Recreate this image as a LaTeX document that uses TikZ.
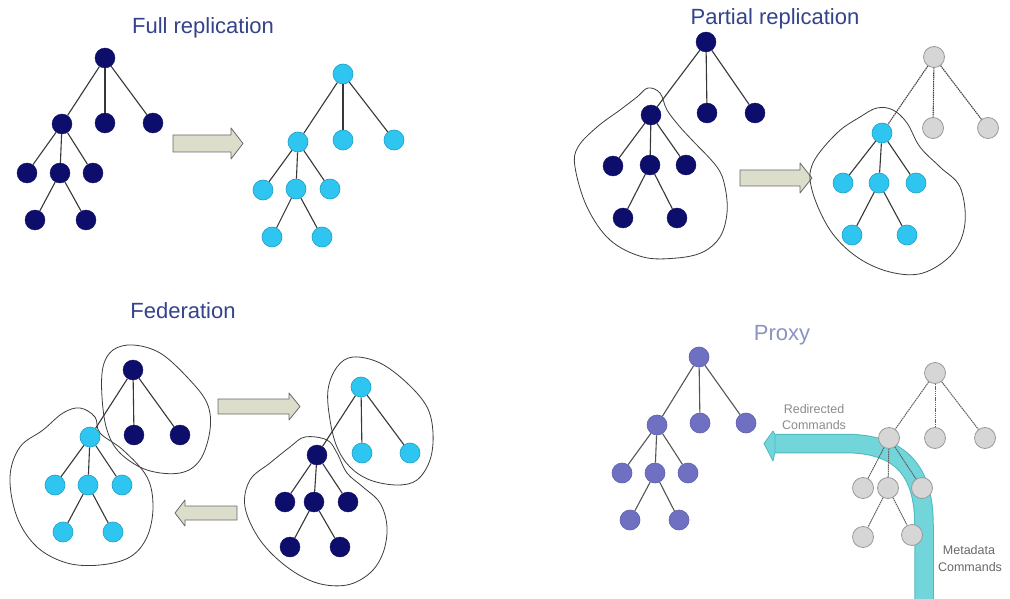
\documentclass[tikz,border=0pt]{standalone}
\usepackage{fontspec}
\setmainfont{Liberation Sans}
\definecolor{navy}{HTML}{0D0D6B}
\definecolor{cyanf}{HTML}{2EC6F0}
\definecolor{cyand}{HTML}{1B9FC6}
\definecolor{purp}{HTML}{7070C2}
\definecolor{purpd}{HTML}{5E5EB0}
\definecolor{grayf}{HTML}{D6D6D6}
\definecolor{grayd}{HTML}{9A9A9A}
\definecolor{titlec}{HTML}{33438C}
\definecolor{proxyc}{HTML}{8C93C4}
\definecolor{arrf}{HTML}{DCDDCB}
\definecolor{arrd}{HTML}{6A6A6A}
\definecolor{bandf}{HTML}{72D5DA}
\definecolor{bandd}{HTML}{50B8C0}
\tikzset{
  dnode/.style={circle,inner sep=0pt,minimum size=20pt,fill=navy,draw=navy},
  cnode/.style={circle,inner sep=0pt,minimum size=20pt,fill=cyanf,draw=cyand,line width=0.6pt},
  pnode/.style={circle,inner sep=0pt,minimum size=20pt,fill=purp,draw=purpd,line width=0.6pt},
  gnode/.style={circle,inner sep=0pt,minimum size=21pt,fill=grayf,draw=grayd,line width=0.8pt},
  edge/.style={draw={rgb,255:red,55;green,55;blue,55},line width=1.1pt},
  gedge/.style={draw={rgb,255:red,70;green,70;blue,70},line width=1.1pt,dash pattern=on 1.5pt off 0.7pt},
  blob/.style={draw={rgb,255:red,60;green,60;blue,60},line width=0.8pt},
  blockarrow/.style={fill=arrf,draw=arrd,line width=0.8pt,line join=round},
  title/.style={anchor=base,text=titlec,font=\fontsize{22}{22}\selectfont},
  small/.style={font=\fontsize{12.5}{13}\selectfont,inner sep=0pt}
}
\begin{document}
\begin{tikzpicture}[x=1pt,y=-1pt]
\useasboundingbox (0,0) rectangle (1010,599);
\fill[white] (0,0) rectangle (1010,599);

% ---------- Full replication ----------
\node[title] (t1) at (203,34) {Full replication};
\node[dnode] (fa0) at (105,58) {};
\node[dnode] (fa1) at (62,124) {};
\node[dnode] (fa2) at (105,123) {};
\node[dnode] (fa3) at (153,123) {};
\node[dnode] (fa4) at (27,173) {};
\node[dnode] (fa5) at (60,173) {};
\node[dnode] (fa6) at (93,173) {};
\node[dnode] (fa7) at (35,220) {};
\node[dnode] (fa8) at (86,220) {};
\foreach \a/\b in {0/1,0/2,0/3,1/4,1/5,1/6,5/7,5/8} \draw[edge] (fa\a) -- (fa\b);

\node[cnode] (fb0) at (343,74) {};
\node[cnode] (fb1) at (298,142) {};
\node[cnode] (fb2) at (343,140) {};
\node[cnode] (fb3) at (394,140) {};
\node[cnode] (fb4) at (263,190) {};
\node[cnode] (fb5) at (296,189) {};
\node[cnode] (fb6) at (330,189) {};
\node[cnode] (fb7) at (272,237) {};
\node[cnode] (fb8) at (322,237) {};
\foreach \a/\b in {0/1,0/2,0/3,1/4,1/5,1/6,5/7,5/8} \draw[edge] (fb\a) -- (fb\b);

\draw[blockarrow] (173,135) -- (231,135) -- (231,128) -- (243,143.5) -- (231,159) -- (231,152) -- (173,152) -- cycle;

% ---------- Partial replication ----------
\node[title] (t2) at (775,25) {Partial replication};
\draw[blob] plot[smooth cycle,tension=0.6] coordinates {(648,88) (660,93) (667,110) (680,127) (692,140) (717,167) (725,187) (727,213) (720,237) (703,252) (677,258) (643,257) (610,240) (587,207) (575,167) (578,147) (597,127) (620,110) (637,97)};
\node[dnode] (pa0) at (706,42) {};
\node[dnode] (pa1) at (651,115) {};
\node[dnode] (pa2) at (707,113) {};
\node[dnode] (pa3) at (755,113) {};
\node[dnode] (pa4) at (613,166) {};
\node[dnode] (pa5) at (650,165) {};
\node[dnode] (pa6) at (686,165) {};
\node[dnode] (pa7) at (623,218) {};
\node[dnode] (pa8) at (677,218) {};
\foreach \a/\b in {0/1,0/2,0/3,1/4,1/5,1/6,5/7,5/8} \draw[edge] (pa\a) -- (pa\b);

\draw[blockarrow] (740,170) -- (800,170) -- (800,163) -- (812,178) -- (800,193) -- (800,186) -- (740,186) -- cycle;

\draw[blob] plot[smooth cycle,tension=0.6] coordinates {(877,108) (893,110) (907,123) (920,147) (940,167) (960,187) (965,223) (953,253) (923,273) (890,272) (857,257) (830,230) (812,190) (813,163) (837,133) (860,117)};
\node[gnode] (pb0) at (934,57) {};
\node[cnode] (pb1) at (882,133) {};
\node[gnode] (pb2) at (933,128) {};
\node[gnode] (pb3) at (988,128) {};
\node[cnode] (pb4) at (843,183) {};
\node[cnode] (pb5) at (879,183) {};
\node[cnode] (pb6) at (916,183) {};
\node[cnode] (pb7) at (852,235) {};
\node[cnode] (pb8) at (907,235) {};
\foreach \a/\b in {0/1,0/2,0/3} \draw[gedge] (pb\a) -- (pb\b);
\foreach \a/\b in {1/4,1/5,1/6,5/7,5/8} \draw[edge] (pb\a) -- (pb\b);

% ---------- Federation ----------
\node[title] (t3) at (183,318) {Federation};
\draw[blob] plot[smooth cycle,tension=0.6] coordinates {(133,345) (160,353) (187,377) (207,403) (210,430) (200,460) (180,473) (147,470) (120,453) (107,430) (102,397) (103,367) (113,350)};
\draw[blob] plot[smooth cycle,tension=0.6] coordinates {(80,408) (95,417) (100,433) (123,450) (147,477) (153,507) (147,537) (130,557) (100,565) (67,563) (37,547) (17,517) (10,477) (20,447) (43,430) (63,413)};
\node[dnode] (fl0) at (133,370) {};
\node[dnode] (fl1) at (134,435) {};
\node[dnode] (fl2) at (180,435) {};
\node[cnode] (fl3) at (90,437) {};
\node[cnode] (fl4) at (55,485) {};
\node[cnode] (fl5) at (88,485) {};
\node[cnode] (fl6) at (122,485) {};
\node[cnode] (fl7) at (63,532) {};
\node[cnode] (fl8) at (113,532) {};
\foreach \a/\b in {0/1,0/2,0/3,3/4,3/5,3/6,5/7,5/8} \draw[edge] (fl\a) -- (fl\b);

\draw[blockarrow] (218,399) -- (289,399) -- (289,393) -- (300,406.5) -- (289,420) -- (289,414) -- (218,414) -- cycle;
\draw[blockarrow] (237,506) -- (185,506) -- (185,500) -- (175,513) -- (185,526) -- (185,520) -- (237,520) -- cycle;

\draw[blob] plot[smooth cycle,tension=0.6] coordinates {(353,357) (380,363) (407,383) (427,407) (433,433) (430,460) (417,480) (397,485) (370,480) (350,467) (337,447) (330,420) (328,390) (337,367)};
\draw[blob] plot[smooth cycle,tension=0.6] coordinates {(305,437) (327,440) (337,453) (347,473) (363,487) (380,503) (387,527) (383,553) (370,573) (347,585) (317,583) (287,567) (260,540) (245,507) (250,480) (270,463) (290,447)};
\node[cnode] (fr0) at (361,387) {};
\node[cnode] (fr1) at (362,453) {};
\node[cnode] (fr2) at (410,453) {};
\node[dnode] (fr3) at (317,455) {};
\node[dnode] (fr4) at (285,502) {};
\node[dnode] (fr5) at (314,502) {};
\node[dnode] (fr6) at (348,502) {};
\node[dnode] (fr7) at (290,547) {};
\node[dnode] (fr8) at (340,547) {};
\foreach \a/\b in {0/1,0/2,0/3,3/4,3/5,3/6,5/7,5/8} \draw[edge] (fr\a) -- (fr\b);

% ---------- Proxy ----------
\node[title,text=proxyc] (t4) at (782,340) {Proxy};
\node[pnode] (pp0) at (699,357) {};
\node[pnode] (pp1) at (657,425) {};
\node[pnode] (pp2) at (700,423) {};
\node[pnode] (pp3) at (746,423) {};
\node[pnode] (pp4) at (622,473) {};
\node[pnode] (pp5) at (655,473) {};
\node[pnode] (pp6) at (688,473) {};
\node[pnode] (pp7) at (630,520) {};
\node[pnode] (pp8) at (679,520) {};
\foreach \a/\b in {0/1,0/2,0/3,1/4,1/5,1/6,5/7,5/8} \draw[edge,draw={rgb,255:red,85;green,85;blue,85}] (pp\a) -- (pp\b);

% band arrow
\coordinate (bs) at (924,600);
\coordinate (bc) at (924,525);
\coordinate (bh) at (845,443.5);
\coordinate (be) at (773,443.5);
\draw[bandd,line width=19.5pt] (bs) -- (bc) .. controls (924,470) and (900,443.5) .. (bh) -- (be);
\draw[bandf,line width=17.5pt] (bs) -- (bc) .. controls (924,470) and (900,443.5) .. (bh) -- (be);
\draw[fill=bandf,draw=bandd,line width=0.8pt,line join=round] (775,434.5) -- (773,431) -- (764,443.5) -- (773,461) -- (775,452.5) -- cycle;

\node[gnode] (pg0) at (935,373) {};
\node[gnode] (pg1) at (889,438) {};
\node[gnode] (pg2) at (935,438) {};
\node[gnode] (pg3) at (985,438) {};
\node[gnode] (pg4) at (863,488) {};
\node[gnode] (pg5) at (888,488) {};
\node[gnode] (pg6) at (922,488) {};
\node[gnode] (pg7) at (863,537) {};
\node[gnode] (pg8) at (912,535) {};
\foreach \a/\b in {0/1,0/2,0/3,1/4,1/5,1/6,5/7,5/8} \draw[gedge,draw={rgb,255:red,95;green,95;blue,95},line width=1pt] (pg\a) -- (pg\b);

\node[small,text={rgb,255:red,140;green,140;blue,140}] (l1) at (814,409) {Redirected};
\node[small,text={rgb,255:red,140;green,140;blue,140}] (l2) at (814,425) {Commands};
\node[small,text={rgb,255:red,105;green,105;blue,105}] (l3) at (969,550) {Metadata};
\node[small,text={rgb,255:red,105;green,105;blue,105}] (l4) at (970,567) {Commands};
\end{tikzpicture}
\end{document}
